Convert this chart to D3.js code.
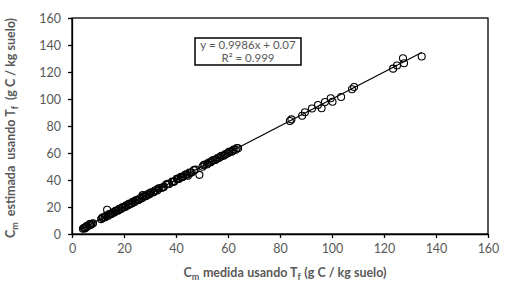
<!DOCTYPE html>
<html>
<head>
<meta charset="utf-8">
<script src="https://cdn.jsdelivr.net/npm/d3@7"></script>
<style>
  body { margin: 0; background: #fff; }
  text { font-family: Lato, "Open Sans", sans-serif; fill: #595959; }
</style>
</head>
<body>
<svg id="grafico"></svg>
<script>
// valores medidos (x) y estimados (y)
const medida = [
  4.2, 4.8, 5.3, 5.9, 6.4, 7.0, 7.6, 8.1, 5.0, 6.8, 4.6, 5.6, 7.3,
  11.2, 11.9, 12.5, 13.1, 13.8, 14.4, 15.0, 15.7, 16.3, 16.9, 17.6, 18.2, 18.9, 19.5, 20.2, 20.8,
  21.5, 22.1, 22.8, 23.4, 24.1, 24.8, 25.4, 26.1, 26.9, 27.6, 28.3, 29.0, 29.7, 30.4, 31.2, 32.0,
  32.8, 33.6, 34.5, 35.3, 36.2, 37.4, 38.5, 39.4, 40.3, 41.1, 41.9, 42.7, 43.5, 44.3, 45.2, 46.0, 46.9,
  11.6, 12.8, 14.1, 15.4, 16.6, 17.9, 19.2, 20.5, 21.8, 23.1, 24.4, 25.7, 27.2, 28.6, 30.0, 31.6,
  33.2, 34.9, 36.8, 39.0, 40.7, 42.3, 43.9, 45.6, 47.5,
  13.5, 49.0, 27.2, 44.6,
  50.2, 51.0, 51.8, 52.6, 53.4, 54.3, 55.1, 55.9, 56.7, 57.5, 58.3, 59.0, 59.8, 60.6, 61.4, 62.2, 63.0, 63.9,
  50.6, 52.2, 53.8, 55.5, 57.1, 58.7, 60.2, 61.8, 63.4,
  83.8, 84.4, 88.5, 89.6, 92.3, 94.6, 96.0, 97.3, 99.5, 100.2, 103.5, 107.7, 108.5,
  123.5, 125.0, 127.3, 127.7, 134.5
];
const estimada = [
  3.9, 4.6, 5.0, 5.6, 6.3, 6.7, 7.5, 8.0, 4.1, 7.3, 4.4, 5.9, 6.9,
  11.0, 12.3, 12.2, 13.5, 13.4, 14.8, 14.7, 16.1, 15.9, 17.3, 17.2, 18.6, 18.5, 19.9, 19.8, 21.2,
  21.1, 22.5, 22.4, 23.8, 23.7, 25.2, 25.0, 26.5, 26.4, 27.9, 27.9, 29.4, 29.3, 30.8, 30.8, 32.4,
  32.3, 33.9, 34.2, 34.9, 36.7, 37.0, 38.8, 39.1, 40.8, 40.8, 42.3, 42.4, 43.9, 43.9, 45.6, 45.6, 47.3,
  11.9, 12.6, 14.4, 15.1, 16.9, 17.6, 19.5, 20.2, 22.1, 22.8, 24.7, 25.4, 27.5, 28.3, 30.3, 31.3,
  33.6, 34.5, 37.1, 38.6, 41.0, 42.0, 44.2, 45.3, 47.7,
  18.0, 43.8, 28.8, 43.2,
  49.8, 51.4, 51.5, 53.0, 53.1, 54.7, 54.8, 56.3, 56.4, 58.0, 57.9, 59.3, 59.6, 61.1, 61.0, 62.5, 62.4, 63.5,
  50.9, 52.0, 54.1, 55.3, 57.4, 58.5, 60.5, 61.5, 63.7,
  83.7, 84.9, 87.6, 90.2, 93.0, 95.6, 93.2, 97.8, 100.6, 98.0, 101.5, 107.2, 108.9,
  122.5, 124.8, 130.2, 126.5, 131.5
];
const ticks = [0, 20, 40, 60, 80, 100, 120, 140, 160];
const pendiente = 0.9986;
const intercepto = 0.07;

const largura = 511, altura = 291;
const margem = { esquerda: 72, direita: 23, superior: 18, inferior: 57 };

const svg = d3.select('#grafico').attr('width', largura).attr('height', altura);
const plotagem = svg.append('g').attr('transform', `translate(${margem.esquerda}, ${margem.superior})`);

const larguraPlotagem = largura - margem.esquerda - margem.direita;
const alturaPlotagem = altura - margem.superior - margem.inferior;

const x = d3.scaleLinear().domain([0, 160]).range([0, larguraPlotagem]);
const y = d3.scaleLinear().domain([0, 160]).range([alturaPlotagem, 0]);

const eixoX = d3.axisBottom(x).tickValues(ticks).tickSize(4).tickSizeOuter(0).tickPadding(6);
const eixoY = d3.axisLeft(y).tickValues(ticks).tickSize(4).tickSizeOuter(0).tickPadding(7);

// borde del area de trazado
plotagem.append('rect')
  .attr('width', larguraPlotagem).attr('height', alturaPlotagem)
  .attr('fill', 'none').attr('stroke', '#000').attr('stroke-width', 1.3);

plotagem.append('g').attr('transform', 'translate(0, ' + alturaPlotagem + ')').attr('id', 'eixoX').call(eixoX);
plotagem.append('g').attr('id', 'eixoY').call(eixoY);

plotagem.selectAll('.domain, .tick line').attr('stroke', '#000').attr('stroke-width', 1.3);
plotagem.selectAll('.tick text').style('font-size', '12.5px').attr('fill', '#595959');

// linea de tendencia
const xmin = d3.min(medida), xmax = d3.max(medida);
plotagem.append('line')
  .attr('x1', x(xmin)).attr('y1', y(pendiente * xmin + intercepto))
  .attr('x2', x(xmax)).attr('y2', y(pendiente * xmax + intercepto))
  .attr('stroke', '#000').attr('stroke-width', 1.2);

plotagem.selectAll('.ponto')
  .data(medida.map((d, i) => [d, estimada[i]]))
  .enter()
  .append('circle')
  .classed('ponto', true)
  .attr('cx', d => x(d[0]))
  .attr('cy', d => y(d[1]))
  .attr('r', 3.5)
  .attr('fill', 'none')
  .attr('stroke', '#000')
  .attr('stroke-width', 1.1);

// cuadro de la ecuacion
const caixa = plotagem.append('g').attr('transform', 'translate(123, 20)');
caixa.append('rect').attr('width', 106).attr('height', 27)
  .attr('fill', '#fff').attr('stroke', '#000').attr('stroke-width', 1.5);
caixa.append('text').attr('x', 53).attr('y', 11).style('text-anchor', 'middle').style('font-size', '11.5px')
  .attr('fill', '#707070').text('y = ' + pendiente + 'x + ' + intercepto);
caixa.append('text').attr('x', 53).attr('y', 24).style('text-anchor', 'middle').style('font-size', '11.5px')
  .attr('fill', '#707070').text('R\u00B2 = 0.999');

// titulos de ejes
function titulo(el, palavra, espaco) {
  el.append('tspan').text('C');
  el.append('tspan').attr('dy', 3).style('font-size', '9px').text('m');
  el.append('tspan').attr('dy', -3).attr('dx', espaco).text(palavra);
  el.append('tspan').attr('dx', espaco).text('usando T');
  el.append('tspan').attr('dy', 3).style('font-size', '9px').text('f');
  el.append('tspan').attr('dy', -3).attr('dx', espaco).text('(g C / kg suelo)');
}

const tituloX = plotagem.append('text')
  .style('text-anchor', 'middle').style('font-size', '12.5px').style('font-weight', 'bold')
  .attr('transform', 'translate(' + (larguraPlotagem / 2 + 5) + ', ' + (alturaPlotagem + 43) + ')');
titulo(tituloX, 'medida', 3.5);

const tituloY = plotagem.append('text')
  .style('text-anchor', 'middle').style('font-size', '12.5px').style('font-weight', 'bold')
  .attr('transform', 'translate(-57, ' + (alturaPlotagem / 2 + 2) + ') rotate(-90)');
titulo(tituloY, 'estimada', 6);
</script>
</body>
</html>
